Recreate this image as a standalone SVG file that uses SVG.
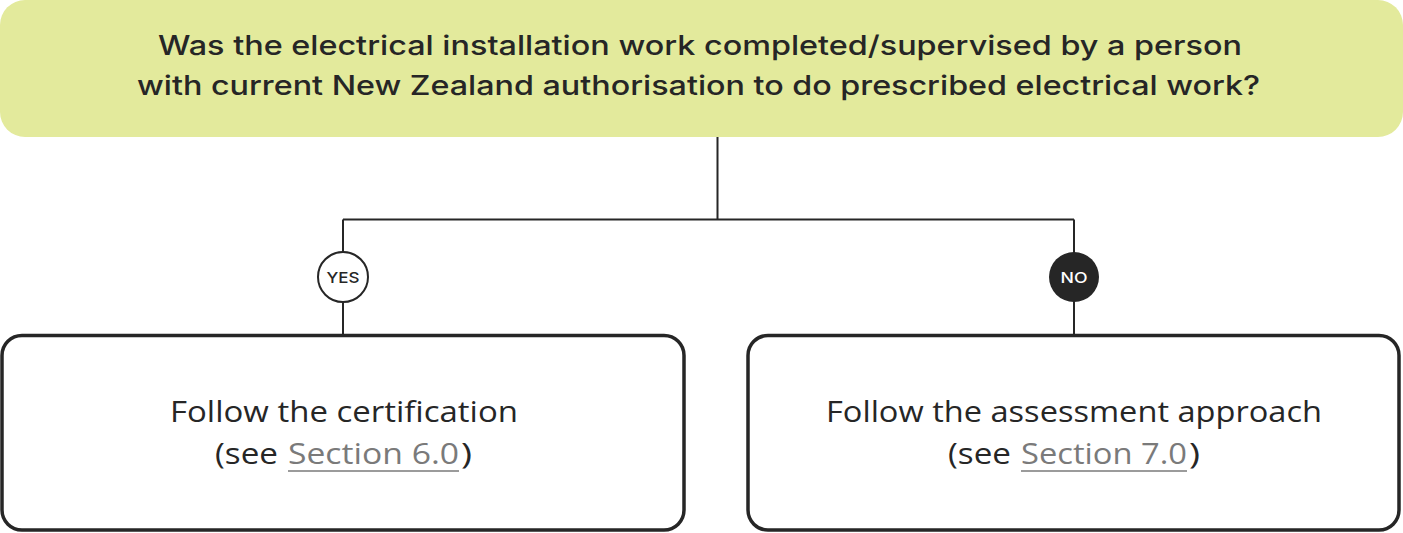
<svg xmlns="http://www.w3.org/2000/svg" width="1403" height="533" viewBox="0 0 1403 533">
<style>
.title{font-family:Inter,"Open Sans","Liberation Sans",sans-serif;font-size:27px;font-weight:500;fill:#262626}
.body{font-family:"Open Sans","Liberation Sans",sans-serif;font-size:29px;font-weight:400;fill:#262626}
.link{fill:#7a7a7a}
.box{fill:#fff;stroke:#262626;stroke-width:3.5}
.conn{fill:none;stroke:#262626;stroke-width:2}
.badge{font-family:Inter,"Open Sans","Liberation Sans",sans-serif;font-size:15px;font-weight:500;text-anchor:middle}
</style>
<g id="connectors">
<path class="conn" d="M717.5 137 V219.5 M343 219.5 H1074 M343 219.5 V336 M1074 219.5 V336"/>
</g>
<g id="question">
<rect x="0" y="0" width="1403" height="137" rx="25" fill="#e3ea9c"/>
<text class="title" x="158" y="55" textLength="1084" lengthAdjust="spacingAndGlyphs">Was the electrical installation work completed/supervised by a person</text>
<text class="title" x="137" y="95" textLength="1123" lengthAdjust="spacingAndGlyphs">with current New Zealand authorisation to do prescribed electrical work?</text>
</g>
<g id="yes">
<circle cx="343" cy="277" r="25" fill="#fff" stroke="#262626" stroke-width="2"/>
<text class="badge" x="343" y="282.5" fill="#262626" textLength="33" lengthAdjust="spacingAndGlyphs">YES</text>
</g>
<g id="no">
<circle cx="1074" cy="277" r="25" fill="#262626"/>
<text class="badge" x="1074" y="282.5" fill="#fff" textLength="27" lengthAdjust="spacingAndGlyphs">NO</text>
</g>
<g id="certification">
<rect class="box" x="2" y="335.5" width="682" height="194.5" rx="20"/>
<text class="body" x="170" y="422" textLength="348" lengthAdjust="spacingAndGlyphs">Follow the certification</text>
<text class="body" x="215" y="464" textLength="63" lengthAdjust="spacingAndGlyphs">(see</text>
<text class="body link" x="288" y="464" textLength="171" lengthAdjust="spacingAndGlyphs">Section 6.0</text>
<line x1="288" y1="471" x2="459" y2="471" stroke="#7a7a7a" stroke-width="1.5"/>
<text class="body" x="461" y="464" textLength="11" lengthAdjust="spacingAndGlyphs">)</text>
</g>
<g id="assessment">
<rect class="box" x="748" y="335.5" width="651" height="194.5" rx="20"/>
<text class="body" x="826" y="422" textLength="496" lengthAdjust="spacingAndGlyphs">Follow the assessment approach</text>
<text class="body" x="948" y="464" textLength="63" lengthAdjust="spacingAndGlyphs">(see</text>
<text class="body link" x="1021" y="464" textLength="166" lengthAdjust="spacingAndGlyphs">Section 7.0</text>
<line x1="1021" y1="471" x2="1187" y2="471" stroke="#7a7a7a" stroke-width="1.5"/>
<text class="body" x="1189" y="464" textLength="11" lengthAdjust="spacingAndGlyphs">)</text>
</g>
</svg>
